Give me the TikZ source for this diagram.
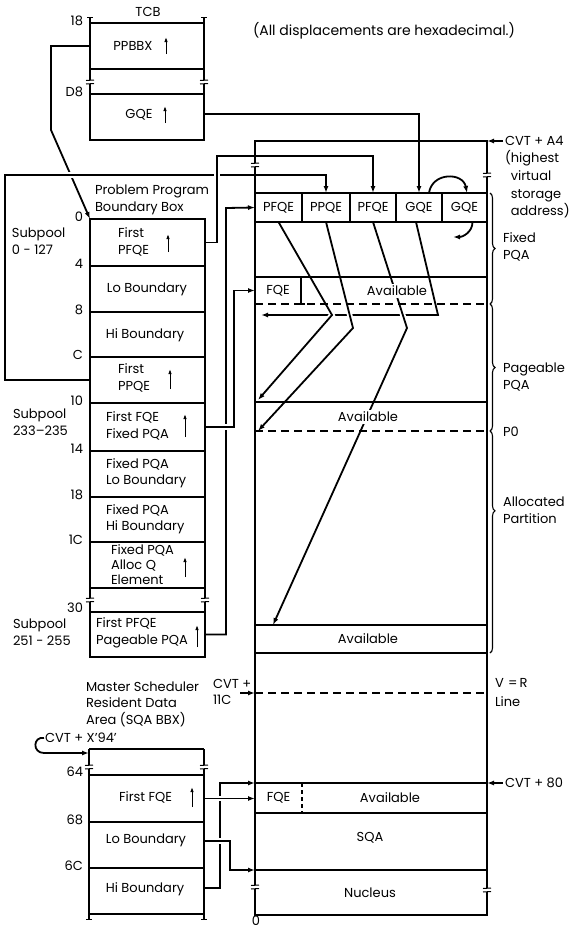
\documentclass[tikz,border=0pt]{standalone}
\usepackage{fontspec}
\setmainfont{Poppins}
\usetikzlibrary{arrows.meta,decorations.pathreplacing,calc,fit}
\pgfdeclarelayer{bg}
\pgfsetlayers{bg,main}
\newcommand\dfont{\fontsize{13}{16.5}\selectfont}
\begin{document}
\begin{tikzpicture}[x=1pt,y=-1pt,
  every node/.style={inner sep=0pt,outer sep=0pt,font=\dfont},
  fld/.style={draw,line width=1.3pt},
  box/.style={line width=1.3pt},
  con/.style={line width=1.8pt,-{Latex[length=7pt,width=5pt]}},
  halo/.style={preaction={draw,white,line width=5.5pt,-}},
  dsh/.style={line width=1.2pt,dash pattern=on 8pt off 5pt},
  uarr/.style={line width=1pt,-{Latex[length=5pt,width=3.5pt]}},
  lt/.style={anchor=west,align=left},
  rt/.style={anchor=east},
  wt/.style={fill=white,inner sep=2pt},
  brc/.style={decorate,decoration={brace,amplitude=5pt},line width=1.1pt},
  brk/.pic={\fill[white] (-4.5,-1.8) rectangle (4.5,1.8);
    \draw[line width=1pt] (-4,-1.5) .. controls (-1.5,-3) and (1.5,-0.5) .. (4,-2);
    \draw[line width=1pt] (-4,2) .. controls (-1.5,0.5) and (1.5,3) .. (4,1.5);},
]
\useasboundingbox (0,0) rectangle (576,929);

% ---------------- TCB ----------------
\node[fld, fit={(90,23)(204,69)}] (t18) {};
\node[fld, fit={(90,94)(204,140)}] (tD8) {};
\draw[box] (t18.south west) -- (tD8.north west);
\draw[box] (t18.south east) -- (tD8.north east);
\draw[box] (t18.north west) -- ++(0,-6);
\draw[box] (t18.north east) -- ++(0,-6);
\draw[line width=1pt] ($(t18.north west)+(-3,-6)$) -- ++(6,0);
\draw[line width=1pt] ($(t18.north east)+(-3,-6)$) -- ++(6,0);
\node (tcbl) at (148,12) {TCB};
\node[rt] (l18) at (83,21) {18};
\node[rt] (lD8) at (83,92) {D8};
\node (tx1) at (133,46) {PPBBX};
\draw[uarr] (166,54) -- (166,37);
\node (tx2) at (139,115) {GQE};
\draw[uarr] (165,123) -- (165,106);
\node[lt, font=\fontsize{14}{16}\selectfont] (all) at (253,31) {(All displacements are hexadecimal.)};

% ---------------- Problem program boundary box ----------------
\node[fld, fit={(90,219)(205,266)}] (f0) {};
\node[fld, fit={(90,266)(205,312)}] (f4) {};
\node[fld, fit={(90,312)(205,357)}] (f8) {};
\node[fld, fit={(90,357)(205,403)}] (fC) {};
\node[fld, fit={(90,403)(205,451)}] (f10) {};
\node[fld, fit={(90,451)(205,497)}] (f14) {};
\node[fld, fit={(90,497)(205,542)}] (f18) {};
\node[fld, fit={(90,542)(205,588)}] (f1C) {};
\node[fld, fit={(90,612)(205,657)}] (f30) {};
\draw[box] (f1C.south west) -- (f30.north west);
\draw[box] (f1C.south east) -- (f30.north east);

\node[rt] (o0) at (83,217) {0};
\node[rt] (o4) at (83,264) {4};
\node[rt] (o8) at (83,310) {8};
\node[rt] (oC) at (83,355) {C};
\node[rt] (o10) at (83,401) {10};
\node[rt] (o14) at (83,449) {14};
\node[rt] (o18) at (83,495) {18};
\node[rt] (o1C) at (83,540) {1C};
\node[rt] (o30) at (83,608) {30};

\node[lt] (x0) at (118,242) {First\\PFQE};
\draw[uarr] (168,252) -- (168,234);
\node (x4) at (147,289) {Lo Boundary};
\node (x8) at (145,335) {Hi Boundary};
\node[lt] (xC) at (118,378) {First\\PPQE};
\draw[uarr] (170,389) -- (170,369);
\node[lt] (x10) at (106,426) {First FQE\\Fixed PQA};
\draw[uarr] (185,437) -- (185,414);
\node[lt] (x14) at (106,473) {Fixed PQA\\Lo Boundary};
\node[lt] (x18) at (106,519) {Fixed PQA\\Hi Boundary};
\node[lt, font=\fontsize{13}{15}\selectfont] (x1C) at (111,565) {Fixed PQA\\Alloc Q\\Element};
\draw[uarr] (185,577) -- (185,557);
\node[lt] (x30) at (96,633) {First PFQE\\Pageable PQA};
\draw[uarr] (197,647) -- (197,625);

\node[lt] (ppbb) at (95,200) {Problem Program\\Boundary Box};
\node[lt] (sp1) at (12,241) {Subpool\\0 - 127};
\node[lt] (sp2) at (13,422) {Subpool\\233--235};
\node[lt] (sp3) at (13,632) {Subpool\\251 - 255};

% ---------------- Master scheduler box ----------------
\node[fit={(89,749)(204,775)}] (msTop) {};
\node[fld, fit={(89,775)(204,822)}] (m64) {};
\node[fld, fit={(89,822)(204,868)}] (m68) {};
\node[fld, fit={(89,868)(204,914)}] (m6C) {};
\draw[box] (msTop.north west) -- (msTop.north east);
\draw[box] (msTop.north west) -- (m64.north west);
\draw[box] (msTop.north east) -- (m64.north east);
\draw[box] (m6C.south west) -- ++(0,5);
\draw[box] (m6C.south east) -- ++(0,5);
\draw[line width=1pt] ($(m6C.south west)+(-3,5)$) -- ++(6,0);
\draw[line width=1pt] ($(m6C.south east)+(-3,5)$) -- ++(6,0);
\node[rt] (o64) at (83,772) {64};
\node[rt] (o68) at (83,820) {68};
\node[rt] (o6C) at (83,866) {6C};
\node[lt] (xm64) at (119,797) {First FQE};
\draw[uarr] (192,807) -- (192,787);
\node (xm68) at (146,840) {Lo Boundary};
\node (xm6C) at (145,889) {Hi Boundary};
\node[lt] (msr) at (86,704) {Master Scheduler\\Resident Data\\Area (SQA BBX)};
\node[lt] (cvt94) at (45,738) {CVT + X\char39 94\char39};

% ---------------- Main storage box ----------------
\node[fld, fit={(255,141)(487,915)}] (mem) {};
\node[fld, fit={(255,193)(302,222)}] (cPF1) {};
\node[fld, fit={(302,193)(350,222)}] (cPP) {};
\node[fld, fit={(350,193)(396,222)}] (cPF2) {};
\node[fld, fit={(396,193)(442,222)}] (cG1) {};
\node[fld, fit={(442,193)(487,222)}] (cG2) {};
\node (tPF1) at (cPF1.center) {PFQE};
\node (tPP) at (cPP.center) {PPQE};
\node (tPF2) at (cPF2.center) {PFQE};
\node (tG1) at (cG1.center) {GQE};
\node (tG2) at (cG2.center) {GQE};
\draw[box] (255,277) -- (487,277);
\draw[dsh] (255,304) -- (487,304);
\draw[box] (301,277) -- (301,304);
\draw[box] (297,304) -- (305,304);
\node[fit={(255,277)(301,304)}] (cFQE) {};
\node (tFQE) at (cFQE.center) {FQE};
\node[wt] (av1) at (397,291) {Available};
\draw[box] (255,402) -- (487,402);
\draw[dsh] (255,431) -- (487,431);
\node[wt] (av2) at (368,417) {Available};
\draw[box] (255,625) -- (487,625);
\draw[box] (255,653) -- (487,653);
\node (av3) at (368,639) {Available};
\draw[dsh] (255,693) -- (487,693);
\draw[box] (255,783) -- (487,783);
\draw[box] (255,813) -- (487,813);
\draw[box] (255,870) -- (487,870);
\draw[line width=1.1pt,dash pattern=on 4pt off 3pt] (302,783) -- (302,813);
\node[fit={(255,783)(302,813)}] (cFQE2) {};
\node (tFQE2) at (cFQE2.center) {FQE};
\node (av4) at (390,798) {Available};
\node (sqa) at (370,838) {SQA};
\node[fit={(255,870)(487,915)}] (rNuc) {};
\node (tNuc) at (370,893) {Nucleus};
\node (z0) at (256,921) {0};

% right-hand labels
\node[lt] (cvtA4) at (505,141) {CVT + A4};
\node[lt, font=\fontsize{13}{17.7}\selectfont] (hva) at (505,184.5) {(highest\\\phantom{(}virtual\\\phantom{(}storage\\\phantom{(}address)};
\node[lt] (fpqa) at (503,247) {Fixed\\PQA};
\node[lt] (ppqa) at (503,377) {Pageable\\PQA};
\node[lt] (p0) at (503,432) {P0};
\node[lt] (alloc) at (503,510) {Allocated\\Partition};
\node[lt, font=\fontsize{13}{19}\selectfont] (vr) at (495,693) {V\,\,=\,R\\Line};
\node[lt] (cvt80) at (505,783) {CVT + 80};
\node[lt] (cvt11) at (213,692) {CVT +\\11C};

\draw[brc] (490,193) -- (490,304);
\draw[brc] (490,304) -- (490,431);
\draw[brc, decoration={brace,amplitude=5pt,aspect=0.36}] (490,431) -- (490,653);

% ---------------- connectors ----------------
\coordinate (j7) at (51,130);
\coordinate (j2) at (5,175);
\coordinate (j1) at (217,156);
\coordinate (j3) at (226,208);
\coordinate (j4) at (234,290.5);
\coordinate (j5) at (220,783);
\coordinate (j6) at (230,870);
\coordinate (d4a) at (438,315);
\coordinate (d4b) at (261,315);
\coordinate (d1a) at (332,315);
\coordinate (d1b) at (258,400);
\coordinate (d2a) at (353,328);
\coordinate (d2b) at (258,431);
\coordinate (d3a) at (407,328);
\coordinate (d3b) at (273,625);
\coordinate (g2end) at (453,237);
\coordinate (a11) at (240,693);
\coordinate (k94) at (44,753);

\begin{pgfonlayer}{bg}
\draw[con] (t18.west) -| (j7) -- (f0.north west);
\draw[con,halo] (fC.west) -| (j2) -| (cPP.north);
\draw[con,halo] (f0.east) -| (j1) -| (cPF2.north);
\draw[con] ($(tD8.east)+(0,-3)$) -| (cG1.north);
\draw[con] (f30.east) -| (j3) -- (cPF1.west);
\draw[con,halo] (f10.east) -| (j4) -- (cFQE.west);
\draw[con] ($(cG1.south)+(-3,0)$) -- (d4a) -- (d4b);
\draw[con,halo] (cPF1.south) -- (d1a) -- (d1b);
\draw[con,halo] (cPP.south) -- (d2a) -- (d2b);
\draw[con,halo] (cPF2.south) -- (d3a) -- (d3b);
\draw[con] ($(cG1.north)+(10,0)$) .. controls (432,172) and (463,172) .. ($(cG2.north)+(2.5,0)$);
\draw[con] ($(cG2.south)+(8,0)$) .. controls (472.5,232) and (463,237) .. (g2end);
\draw[con] ([xshift=-2pt]cvtA4.west) -- (cvtA4.west -| mem.east);
\draw[con] ([xshift=-2pt]cvt80.west) -- (cvt80.west -| mem.east);
\draw[con] (a11) -- (a11 -| mem.west);
\draw[con] ([xshift=-1pt]cvt94.west) .. controls (33,736) and (32,753) .. (k94) -- (k94 -| msTop.west);
\draw[con] ($(m6C.east)+(0,-3)$) -| (j5) -- (cFQE2.north west);
\draw[con,halo] (m64.east) -- (m64.east -| mem.west);
\draw[con,halo] ($(m68.east)+(0,-4)$) -| (j6) -- (rNuc.north west);
\end{pgfonlayer}

% ---------------- break marks ----------------
\pic at (90,82) {brk};
\pic at (204,82) {brk};
\pic at (90,600) {brk};
\pic at (205,600) {brk};
\pic at (89,767) {brk};
\pic at (204,767) {brk};
\pic at (255,165) {brk};
\pic at (487,175) {brk};
\pic at (255,887) {brk};
\pic at (487,890) {brk};
\end{tikzpicture}
\end{document}
